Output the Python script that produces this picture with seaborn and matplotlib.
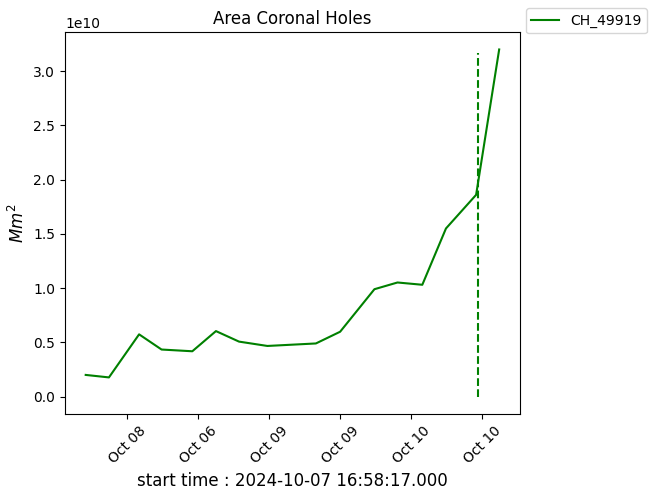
import pandas as pd
import matplotlib
matplotlib.use("Agg")
import matplotlib.pyplot as plt
import seaborn as sns

# data (hours after 2024-10-08 00:00 and area in 1e10 Mm^2)
start_time = "2024-10-07 16:58:17.000"
hours = [-7.03, -3.1, 2.0, 5.8, 11.0, 15.0, 18.9, 23.7, 31.9, 36.0,
         41.8, 45.7, 49.9, 53.9, 59.0, 62.9]
area = [0.20, 0.177, 0.574, 0.434, 0.418, 0.604, 0.507, 0.467, 0.49, 0.598,
        0.99, 1.052, 1.031, 1.55, 1.86, 3.20]
vline_hour = 59.4
vline_top = 3.17
tick_hours = [0, 12, 24, 36, 48, 60]
tick_labels = ["Oct 08", "Oct 06", "Oct 09", "Oct 09", "Oct 10", "Oct 10"]
ch_name = "CH_49919"

base = pd.Timestamp("2024-10-08 00:00:00")
df = pd.DataFrame({
    "time": [base + pd.Timedelta(hours=h) for h in hours],
    "area": [a * 1e10 for a in area],
})

fig = plt.figure(figsize=(6.49, 4.94), dpi=100)
ax = fig.add_axes([0.1002, 0.162, 0.7008, 0.773])

sns.lineplot(data=df, x="time", y="area", color="green", linewidth=1.5,
             label=ch_name, ax=ax)
vt = base + pd.Timedelta(hours=vline_hour)
ax.vlines(vt, 0, vline_top * 1e10, colors="green", linestyles="--", linewidth=1.5)

ax.set_xticks([base + pd.Timedelta(hours=h) for h in tick_hours])
ax.set_xticklabels(tick_labels, rotation=45)
ax.set_title("Area Coronal Holes")
ax.set_ylabel("$Mm^2$", fontsize=12)
ax.set_xlabel("start time : " + start_time, fontsize=12)
ax.legend(loc="upper left", bbox_to_anchor=(1.013, 1.063), borderaxespad=0)

fig.savefig("out.png", dpi=100)
